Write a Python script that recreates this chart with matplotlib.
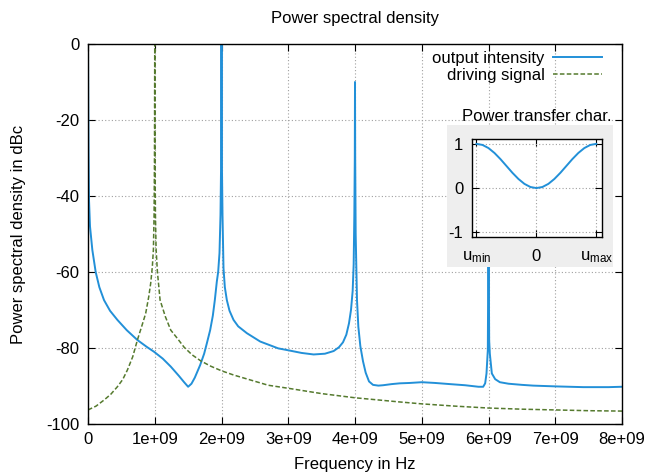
import numpy as np
import matplotlib
matplotlib.use('Agg')
import matplotlib.pyplot as plt
from matplotlib.patches import Rectangle

plt.rcParams['font.family'] = ['Liberation Sans', 'DejaVu Sans']
plt.rcParams['font.size'] = 12
plt.rcParams['axes.titlesize'] = 12
plt.rcParams['axes.labelsize'] = 12
plt.rcParams['axes.unicode_minus'] = False
plt.rcParams['mathtext.default'] = 'regular'

# output intensity (frequency in GHz, PSD in dBc)
freq_out = [0.0, 0.004, 0.008, 0.015, 0.03, 0.065, 0.115, 0.17, 0.24, 0.33, 0.44,
            0.58, 0.74, 0.88, 0.99, 1.12, 1.24, 1.36, 1.44, 1.50, 1.55, 1.60, 1.68,
            1.74, 1.78, 1.83, 1.87, 1.90, 1.93, 1.95, 1.97, 1.985, 1.995, 2.0,
            2.005, 2.015, 2.03, 2.05, 2.08, 2.12, 2.18, 2.25, 2.38, 2.48, 2.58,
            2.73, 2.85, 3.0, 3.2, 3.38, 3.55, 3.68, 3.76, 3.82, 3.87, 3.91, 3.94,
            3.965, 3.98, 3.99, 3.997, 4.0, 4.003, 4.01, 4.03, 4.05, 4.08, 4.12,
            4.16, 4.21, 4.27, 4.35, 4.42, 4.55, 4.67, 4.82, 5.0, 5.2, 5.42, 5.65,
            5.85, 5.92, 5.95, 5.97, 5.99, 6.0, 6.01, 6.02, 6.05, 6.1, 6.17, 6.3,
            6.5, 6.67, 7.0, 7.42, 7.8, 8.0]
psd_out = [0, -15, -28, -41, -48, -54.2, -60, -64, -67.4, -70.2, -72.6,
           -75.3, -77.9, -79.7, -81, -82.8, -84.9, -87.3, -89.0, -90.2, -89.4, -87.8, -84.5,
           -81.5, -78.8, -75.3, -71.5, -67.4, -62.5, -60, -55, -45, -30, 0,
           -30, -45, -59, -64, -67.4, -70.2, -72.6, -74.3, -76.1, -77.2, -78.3,
           -79.3, -80.1, -80.6, -81.3, -81.7, -81.5, -80.8, -79.8, -78.5, -76.5, -73.5, -70,
           -65, -58, -45, -30, -10, -30, -50, -67.4, -74.4, -79.5, -83.5,
           -86.5, -88.8, -89.7, -89.9, -89.8, -89.5, -89.3, -89.2, -89.0, -89.2, -89.5, -89.8,
           -90.2, -90.2, -89.3, -86.7, -80.5, -45, -78, -81.5, -86.7, -88.2, -89.0, -89.4,
           -89.7, -89.9, -90.1, -90.3, -90.3, -90.2]

# driving signal
freq_drv = [0.0, 0.12, 0.24, 0.34, 0.44, 0.52, 0.59, 0.67, 0.74, 0.81, 0.864, 0.91,
            0.939, 0.964, 0.98, 0.99, 0.996, 1.0, 1.004, 1.01, 1.02, 1.04, 1.08, 1.16,
            1.24, 1.34, 1.44, 1.56, 1.69, 1.84, 2.0, 2.18, 2.43, 2.7, 3.0, 3.5, 4.0,
            4.67, 5.0, 5.5, 6.0, 6.5, 7.0, 7.5, 8.0]
psd_drv = [-96.3, -95.3, -93.7, -92.2, -90.2, -88.3, -85.8, -82.3, -77.9, -74, -70.9, -66.5,
           -63, -58.6, -54, -45, -30, 0, -30, -45, -54, -60, -67.4, -71.8,
           -75.3, -77.5, -79.8, -81.8, -83.4, -84.8, -86, -87.1, -88.4, -89.8, -90.6, -92, -93.1,
           -94.2, -94.7, -95.3, -95.8, -96.1, -96.3, -96.5, -96.6]

# power transfer characteristic (inset)
u_vals = [-1.0, -0.9, -0.8, -0.7, -0.6, -0.5, -0.4, -0.3, -0.2, -0.1, 0.0,
          0.1, 0.2, 0.3, 0.4, 0.5, 0.6, 0.7, 0.8, 0.9, 1.0]
p_vals = [1.0, 0.976, 0.905, 0.794, 0.655, 0.5, 0.345, 0.206, 0.095, 0.024, 0.0,
          0.024, 0.095, 0.206, 0.345, 0.5, 0.655, 0.794, 0.905, 0.976, 1.0]

xticks = [0, 1e9, 2e9, 3e9, 4e9, 5e9, 6e9, 7e9, 8e9]
xtick_labels = ['0', '1e+09', '2e+09', '3e+09', '4e+09', '5e+09', '6e+09', '7e+09', '8e+09']
yticks = [-100, -80, -60, -40, -20, 0]

blue = '#2290d8'
green = '#557a2e'
grid_kw = dict(color='#a0a0a0', linestyle=(0, (1, 2)), linewidth=0.8)

fig = plt.figure(figsize=(6.46, 4.75), dpi=100)
ax = fig.add_axes([88 / 646, 1 - 424 / 475, 534 / 646, 380 / 475])

ax.plot(np.array(freq_out) * 1e9, psd_out, color=blue, lw=1.4, label='output intensity')
ax.plot(np.array(freq_drv) * 1e9, psd_drv, color=green, lw=1.1, dashes=(3, 1.5),
        label='driving signal')

ax.set_xlim(0, 8e9)
ax.set_ylim(-100, 0)
ax.set_xticks(xticks)
ax.set_xticklabels(xtick_labels)
ax.set_yticks(yticks)
ax.tick_params(direction='in', length=5, width=0.8, top=True, right=True, pad=6)
ax.grid(True, **grid_kw)
for s in ax.spines.values():
    s.set_linewidth(1.0)
ax.set_xlabel('Frequency in Hz')
ax.set_ylabel('Power spectral density in dBc')
ax.xaxis.set_label_coords(0.5, (424 - 457) / 380)
ax.yaxis.set_label_coords((26 - 88) / 534, 0.5)
ax.set_title('Power spectral density', pad=15)

leg = ax.legend(loc='upper right', bbox_to_anchor=((602 - 88) / 534, (424 - 51) / 380),
                frameon=False, markerfirst=False, handlelength=2.95, handletextpad=0.5,
                labelspacing=0.1, borderaxespad=0, borderpad=0)

# gray background for inset
fig.patches.append(Rectangle((447 / 646, 1 - 267 / 475), 166 / 646, 142 / 475,
                             transform=fig.transFigure, facecolor='#eeeeee',
                             edgecolor='none', zorder=1))

ins = fig.add_axes([471.7 / 646, 1 - 236.7 / 475, 130 / 646, 97.7 / 475])
ins.set_zorder(2)
ins.plot(u_vals, p_vals, color=blue, lw=1.4)
ins.set_xlim(-1.08, 1.09)
ins.set_ylim(-1.1, 1.11)
ins.set_xticks([-1, 0, 1])
ins.set_xticklabels([r'$u_{min}$', '0', r'$u_{max}$'])
ins.set_yticks([-1, 0, 1])
ins.set_yticklabels(['-1', '0', '1'])
ins.tick_params(direction='in', length=5, width=0.8, top=True, right=True, pad=6)
ins.tick_params(axis='x', pad=9)
ins.grid(True, **grid_kw)
for s in ins.spines.values():
    s.set_linewidth(1.0)
ins.set_title('Power transfer char.', pad=13)

fig.savefig('out.png', dpi=100)
